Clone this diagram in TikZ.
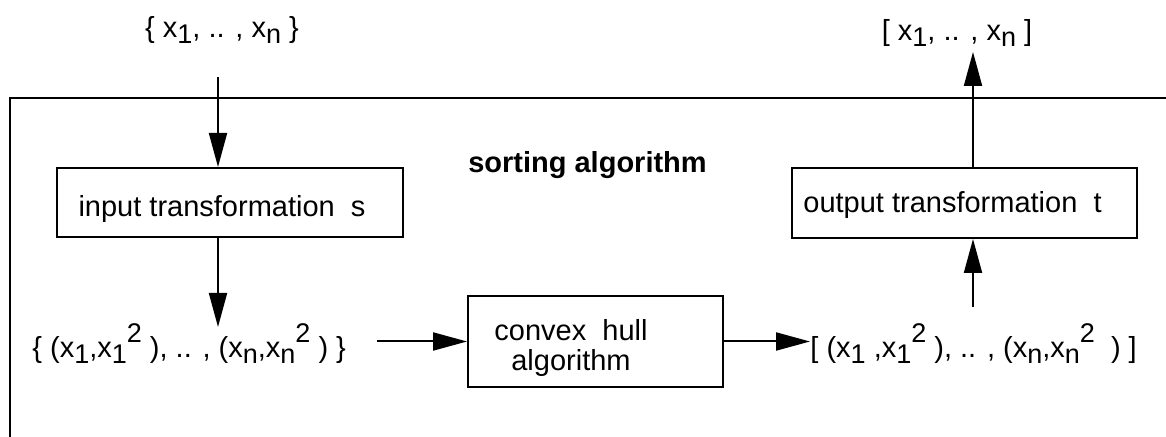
\documentclass[tikz,border=0pt]{standalone}
\usepackage{fontspec}
\setmainfont{Liberation Sans}
\usetikzlibrary{arrows.meta}
\newcommand\mysub[1]{\raisebox{-3pt}{\fontsize{13.5}{14}\selectfont #1}}
\newcommand\mysup[1]{\raisebox{7.5pt}{\fontsize{13.5}{14}\selectfont #1}}
\begin{document}
\begin{tikzpicture}[x=0.5pt,y=-0.5pt,
  font=\fontsize{14.5}{17}\selectfont,
  box/.style={draw, line width=1pt, inner sep=0pt},
  arr/.style={line width=1pt, -{Triangle[length=17pt,width=9pt]}},
  lbl/.style={inner sep=0pt}]
\useasboundingbox (0,0) rectangle (1166,437);
% outer frame (cut off at right and bottom)
\draw[line width=1.2pt] (10,445) -- (10,98) -- (1175,98);
% texts
\node[lbl, anchor=base] (topin) at (222,38) {\{ x\mysub{1}, .. , x\mysub{n} \}};
\node[lbl, anchor=base] (topout) at (957,41) {[ x\mysub{1}, .. , x\mysub{n} ]};
\node[lbl, anchor=base, font=\bfseries\fontsize{14.5}{17}\selectfont] (title) at (587.5,173) {sorting algorithm};
\node[lbl, anchor=base west] (ltext) at (32,358) {\{ (x\mysub{1},x\mysub{1}\mysup{2} ), .. , (x\mysub{n},x\mysub{n}\mysup{2} ) \}};
\node[lbl, anchor=base west] (rtext) at (810,358) {[ (x\mysub{1} ,x\mysub{1}\mysup{2} ), .. , (x\mysub{n},x\mysub{n}\mysup{2}\ \ ) ]};
% boxes
\node[box, minimum width=173pt, minimum height=34.5pt, text height=14.5pt, text depth=0pt] (inbox) at (230,202.5) {input transformation\ \ s\hspace*{8pt}};
\node[box, minimum width=172.5pt, minimum height=35pt, text height=10pt, text depth=0pt] (outbox) at (964.5,203) {output transformation\ \ t\hspace*{12pt}};
\node[box, minimum width=127.5pt, minimum height=45.5pt] (hull) at (595.5,341.5) {};
\node[lbl, align=center, font=\fontsize{14.5}{15}\selectfont] (hulltext) at (571,348) {convex\ \ hull\\algorithm};
% connectors
\coordinate (a1) at (218,77);
\coordinate (a2) at (218,327);
\coordinate (a3) at (973,52);
\coordinate (a4) at (973,307);
\coordinate (a5) at (377,341.5);
\draw[arr] (a1) -- (a1 |- inbox.north);
\draw[arr] (inbox.south -| a2) -- (a2);
\draw[arr] (a5) -- (hull.west);
\draw[arr] (hull.east) -- (hull.east -| rtext.west);
\draw[arr] (a4) -- (a4 |- outbox.south);
\draw[arr] (outbox.north -| a3) -- (a3);
\end{tikzpicture}
\end{document}
